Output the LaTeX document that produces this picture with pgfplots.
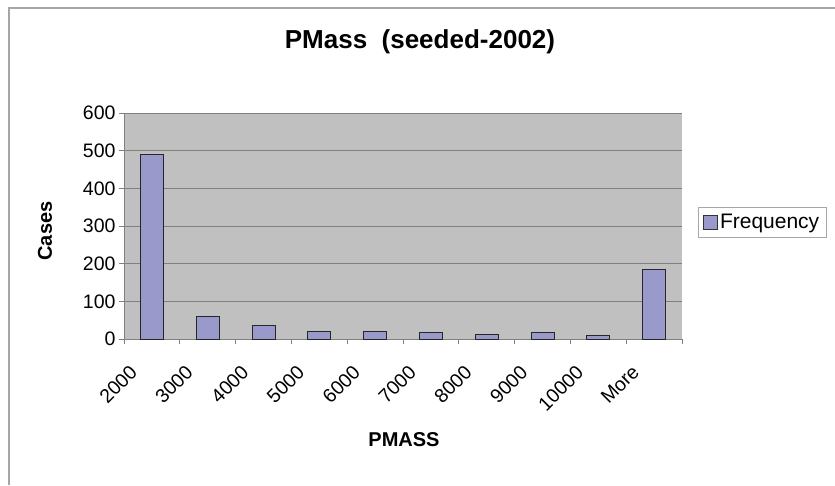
\documentclass[border=0pt]{standalone}
\usepackage{pgfplots}
\pgfplotsset{compat=1.18}
\usepackage{fontspec}
\setmainfont{Liberation Sans}
\definecolor{plotbg}{HTML}{C0C0C0}
\definecolor{barfill}{HTML}{9999CC}
\definecolor{gridc}{HTML}{808080}
\begin{document}
\begin{tikzpicture}[x=1pt,y=1pt]
\useasboundingbox (0,0) rectangle (835,485);
\fill[white] (0,0) rectangle (835,485);
\draw[gray!70, line width=1.2pt] (9,0) -- (9,477) -- (835,477);
\node[font=\bfseries\fontsize{26}{30}\selectfont] at (420,443) {PMass\ \ (seeded-2002)};
\node[font=\bfseries\fontsize{20}{24}\selectfont] at (404,45) {PMASS};
\node[font=\bfseries\fontsize{20}{24}\selectfont, rotate=90] at (45,254) {Cases};
\begin{axis}[
  at={(124pt,146pt)}, anchor=south west,
  scale only axis, width=558pt, height=226pt,
  xmin=-0.5, xmax=9.5, ymin=0, ymax=600,
  ytick={0,100,...,600},
  xtick={-0.5,0.5,...,9.5}, xticklabels={},
  extra x ticks={0,1,2,3,4,5,6,7,8,9},
  extra x tick labels={2000,3000,4000,5000,6000,7000,8000,9000,10000,More},
  extra x tick style={major tick length=0pt, tick label style={rotate=45, anchor=north east, inner sep=1pt, xshift=-33pt, yshift=0pt}},
  tick label style={font=\fontsize{19.5}{21}\selectfont},
  /pgf/number format/assume math mode=true,
  axis background/.style={fill=plotbg},
  axis x line*=bottom, axis y line*=left,
  axis line style={gridc, line width=1pt, -},
  tick style={gridc, line width=0.8pt},
  tick align=outside, major tick length=5pt,
  ymajorgrids, major grid style={gridc, line width=1pt},
  ytick style={gridc},
  legend style={at={(1.0287,0.518)}, anchor=west, draw=gray!70, fill=white,
    font=\fontsize{21}{25}\selectfont, inner xsep=5pt, inner ysep=5pt},
  legend image code/.code={\draw[#1, fill=barfill, draw=black!80, line width=0.8pt] (2pt,-7pt) rectangle (16pt,7pt);},
  clip=false,
]
\addplot[ybar, bar width=23pt, fill=barfill, draw=black!85, line width=1pt]
  coordinates {(0,490) (1,59) (2,35) (3,21) (4,21) (5,17) (6,12) (7,17) (8,9) (9,184)};
\addlegendentry{Frequency}
\end{axis}
\end{tikzpicture}
\end{document}
